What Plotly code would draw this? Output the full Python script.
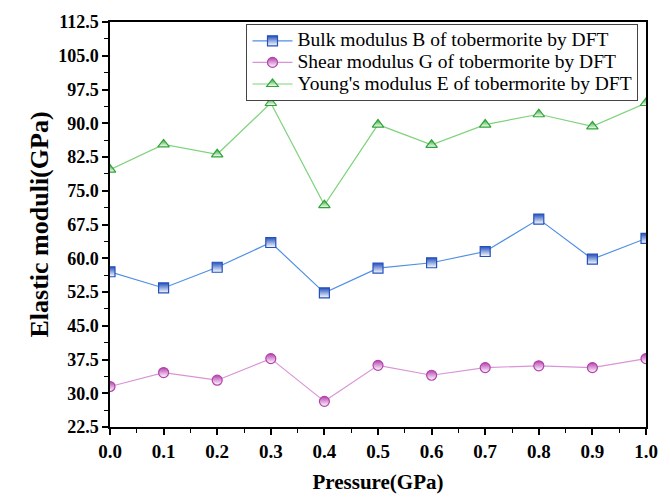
import plotly.graph_objects as go

# Pressure steps (GPa) and elastic moduli of tobermorite from DFT (GPa)
pressure = [0.0, 0.1, 0.2, 0.3, 0.4, 0.5, 0.6, 0.7, 0.8, 0.9, 1.0]
bulk_B = [57.0, 53.4, 58.0, 63.5, 52.3, 57.8, 59.0, 61.5, 68.7, 59.8, 64.4]
shear_G = [31.5, 34.6, 32.9, 37.7, 28.2, 36.2, 34.0, 35.7, 36.1, 35.7, 37.7]
young_E = [79.7, 85.3, 83.1, 94.5, 71.8, 89.7, 85.2, 89.7, 92.0, 89.3, 94.5]

series = [
    ("Bulk modulus B of tobermorite by DFT", bulk_B, "square", "#2350bd", "#4f8fe3"),
    ("Shear modulus G of tobermorite by DFT", shear_G, "circle", "#b440ad", "#d894d6"),
    ("Young's modulus E of tobermorite by DFT", young_E, "triangle-up", "#2ea534", "#7fd37c"),
]

y_ticks = [22.5 + 7.5 * i for i in range(13)]
x_ticks = [round(0.1 * i, 1) for i in range(11)]

fig = go.Figure()
for name, vals, sym, mcol, lcol in series:
    fig.add_trace(go.Scatter(
        x=pressure, y=vals, mode="lines+markers",
        name=f'<span style="font-size:19.5px">{name}</span>',
        line=dict(color=lcol, width=1.2),
        marker=dict(symbol=sym, size=10, color=mcol,
                    gradient=dict(type="vertical", color="white"),
                    line=dict(color=mcol, width=1.2)),
    ))

x_font = dict(family="Liberation Serif", size=19, color="black")
y_font = dict(family="Liberation Serif", size=18, color="black")

fig.update_xaxes(
    range=[0, 1.0], tickvals=x_ticks, ticktext=[f"<b>{v:.1f}</b>" for v in x_ticks],
    showline=True, linecolor="black", linewidth=1.5, mirror=True,
    ticks="outside", ticklen=6, tickwidth=1.5, tickcolor="black",
    minor=dict(dtick=0.05, ticks="outside", ticklen=4, tickwidth=1.2, tickcolor="black"),
    showgrid=False, zeroline=False, tickfont=x_font,
    title=dict(text="<b>Pressure(GPa)</b>",
               font=dict(family="Liberation Serif", size=21, color="black"), standoff=14),
)
fig.update_yaxes(
    range=[22.5, 112.5], tickvals=y_ticks, ticktext=[f"<b>{v:.1f}</b>" for v in y_ticks],
    showline=True, linecolor="black", linewidth=1.5, mirror=True,
    ticks="outside", ticklen=6, tickwidth=1.5, tickcolor="black",
    minor=dict(dtick=3.75, tick0=22.5, ticks="outside", ticklen=4, tickwidth=1.2, tickcolor="black"),
    showgrid=False, zeroline=False, tickfont=y_font,
    title=dict(text="<b>Elastic moduli(GPa)</b>",
               font=dict(family="Liberation Serif", size=26, color="black"), standoff=2),
)

fig.update_layout(
    width=670, height=503,
    margin=dict(l=110, r=13, t=20, b=76),
    paper_bgcolor="white", plot_bgcolor="white",
    showlegend=True,
    legend=dict(
        x=0.986, y=0.995, xanchor="right", yanchor="top",
        bgcolor="white", bordercolor="#444444", borderwidth=1,
        font=dict(family="Liberation Serif", size=14.3, color="black"),
        tracegroupgap=0, itemwidth=40,
    ),
)

fig.write_html("out.html")
